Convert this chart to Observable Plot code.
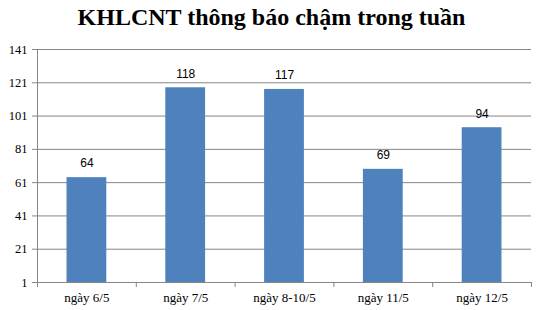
<!DOCTYPE html>
<html>
<head>
<meta charset="utf-8">
<script src="https://cdn.jsdelivr.net/npm/d3@7"></script>
<script src="https://cdn.jsdelivr.net/npm/@observablehq/plot@0.6"></script>
<style>
  body { margin: 0; background: #fff; }
  #wrap { width: 543px; height: 310px; overflow: hidden; }
  #title { height: 40px; box-sizing: border-box; padding-top: 5px; text-align: center;
    font-family: "Liberation Serif", "Times New Roman", serif; font-weight: bold;
    font-size: 24px; line-height: 24px; color: #000; }
  svg { display: block; }
</style>
</head>
<body>
<div id="wrap">
  <div id="title">KHLCNT thông báo chậm trong tuần</div>
  <div id="chart"></div>
</div>
<script>
const categories = ["ngày 6/5", "ngày 7/5", "ngày 8-10/5", "ngày 11/5", "ngày 12/5"];
const values = [64, 118, 117, 69, 94];
const yTicks = [1, 21, 41, 61, 81, 101, 121, 141];

const data = categories.map((c, i) => ({i, c, v: values[i]}));
const bounds = d3.range(categories.length + 1);
const centers = categories.map((c, i) => i + 0.5);

const chart = Plot.plot({
  width: 543,
  height: 270,
  marginLeft: 37,
  marginRight: 12,
  marginTop: 9,
  marginBottom: 28,
  x: {type: "linear", domain: [0, categories.length]},
  y: {domain: [1, 141]},
  style: {fontFamily: "'Liberation Serif', 'Times New Roman', serif", fontSize: "13px", color: "#000"},
  marks: [
    Plot.gridY(yTicks, {stroke: "#868686", strokeOpacity: 1}),
    Plot.rectY(data, {x1: d => d.i, x2: d => d.i + 1, y1: 1, y2: "v", fill: "#4f81bd", insetLeft: 29.5, insetRight: 29.5}),
    Plot.ruleX([0], {stroke: "#868686"}),
    Plot.ruleY([1], {stroke: "#868686"}),
    Plot.axisY(yTicks, {tickSize: 5, tickPadding: 5, stroke: "#868686", fill: "#000", fontSize: 12.5, label: null}),
    Plot.axisX(bounds, {tickSize: 5, tickFormat: () => "", stroke: "#868686", label: null}),
    Plot.axisX(centers, {tickSize: 0, tickPadding: 10, tickFormat: d => categories[Math.floor(d)], fill: "#000", fontSize: 13, label: null}),
    Plot.text(data, {x: d => d.i + 0.5, y: "v", text: d => String(d.v), dy: -14,
      fontFamily: "'Liberation Sans', Arial, sans-serif", fontSize: 12, fill: "#000"})
  ]
});
document.getElementById("chart").appendChild(chart);
</script>
</body>
</html>
